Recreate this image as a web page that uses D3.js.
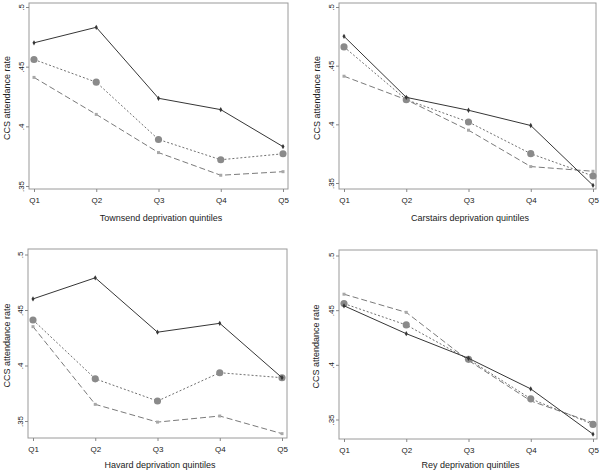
<!DOCTYPE html>
<html><head><meta charset="utf-8">
<script src="https://cdn.jsdelivr.net/npm/d3@7"></script>
<style>
body{margin:0;background:#fff;}
text{font-family:"Liberation Sans",Arial,sans-serif;}
</style></head><body>
<svg id="c" width="600" height="471"></svg>
<script>
const categories = ["Q1","Q2","Q3","Q4","Q5"];
const yTicks = [0.35, 0.40, 0.45, 0.50];
const yTickLabels = [".35", ".4", ".45", ".5"];
const panelTitles = ["Townsend deprivation quintiles","Carstairs deprivation quintiles","Havard deprivation quintiles","Rey deprivation quintiles"];
const yTitle = "CCS attendance rate";

// series per panel: solid (diamond), dotted (circle), dashed (square)
const townsendSolid  = [0.470, 0.483, 0.4235, 0.414, 0.383];
const townsendDotted = [0.456, 0.437, 0.389, 0.372, 0.377];
const townsendDashed = [0.441, 0.410, 0.378, 0.359, 0.362];

const carstairsSolid  = [0.475, 0.423, 0.412, 0.399, 0.348];
const carstairsDotted = [0.466, 0.421, 0.402, 0.375, 0.356];
const carstairsDashed = [0.441, 0.421, 0.395, 0.364, 0.360];

const havardSolid  = [0.460, 0.479, 0.430, 0.438, 0.389];
const havardDotted = [0.441, 0.388, 0.368, 0.3935, 0.389];
const havardDashed = [0.435, 0.365, 0.349, 0.3545, 0.3386];

const reySolid  = [0.454, 0.4285, 0.406, 0.378, 0.3366];
const reyDotted = [0.456, 0.4365, 0.405, 0.369, 0.3455];
const reyDashed = [0.4646, 0.448, 0.404, 0.367, 0.347];

const panelSeries = [
  [townsendSolid, townsendDotted, townsendDashed],
  [carstairsSolid, carstairsDotted, carstairsDashed],
  [havardSolid, havardDotted, havardDashed],
  [reySolid, reyDotted, reyDashed]
];

// layout (pixels) per panel
const layouts = [
  {L:29, R:288, T:3, B:189, x0:34, x1:283, yTop:7, yBot:186, ttlX:9.5, xTtlY:221},
  {L:339, R:596, T:3, B:189, x0:344, x1:593, yTop:7, yBot:183, ttlX:319.5, xTtlY:221},
  {L:28, R:287, T:249, B:438, x0:33, x1:282, yTop:254.5, yBot:421, ttlX:10, xTtlY:468},
  {L:339, R:597, T:250, B:439, x0:344, x1:593, yTop:255.5, yBot:419.5, ttlX:319, xTtlY:468}
];

const styles = [
  {stroke:"#363636", dash:null, marker:"diamond", mfill:"#363636", msize:8},
  {stroke:"#707070", dash:"2,2", marker:"circle", mfill:"#8a8a8a", msize:40},
  {stroke:"#7a7a7a", dash:"6,3", marker:"square", mfill:"#a8a8a8", msize:9}
];
const sym = {diamond:d3.symbolDiamond, circle:d3.symbolCircle, square:d3.symbolSquare};

const svg = d3.select("#c");

layouts.forEach((lo, p) => {
  const g = svg.append("g");
  const x = d3.scalePoint().domain(categories).range([lo.x0, lo.x1]);
  const y = d3.scaleLinear().domain([0.35, 0.5]).range([lo.yBot, lo.yTop]);

  // frame
  g.append("rect").attr("x", lo.L).attr("y", lo.T).attr("width", lo.R-lo.L).attr("height", lo.B-lo.T)
    .attr("fill","none").attr("stroke","#9a9a9a").attr("stroke-width",1);

  const yAxis = g.append("g").attr("transform",`translate(${lo.L},0)`)
    .call(d3.axisLeft(y).tickValues(yTicks).tickFormat((d,i)=>yTickLabels[i]).tickSize(3));
  yAxis.select(".domain").remove();
  yAxis.selectAll(".tick line").attr("stroke","#888");
  yAxis.selectAll(".tick text").attr("fill","#222").attr("font-size",8)
    .attr("transform","rotate(-90)").attr("x",0).attr("y",-5).attr("dy",null)
    .attr("text-anchor","middle");

  const xAxis = g.append("g").attr("transform",`translate(0,${lo.B})`)
    .call(d3.axisBottom(x).tickSize(3).tickPadding(5));
  xAxis.select(".domain").remove();
  xAxis.selectAll(".tick line").attr("stroke","#888");
  xAxis.selectAll(".tick text").attr("fill","#222").attr("font-size",8);

  g.append("text").attr("x",(lo.L+lo.R)/2 + 2.5).attr("y",lo.xTtlY).attr("text-anchor","middle")
    .attr("font-size",9).attr("fill","#222").text(panelTitles[p]);
  g.append("text").attr("transform",`translate(${lo.ttlX},${(lo.T+lo.B)/2 + 2}) rotate(-90)`)
    .attr("text-anchor","middle").attr("font-size",9).attr("fill","#222").text(yTitle);

  const line = d3.line().x((d,i)=>x(categories[i])).y(d=>y(d));
  // draw dashed first, then dotted, then solid
  [2,1,0].forEach(s => {
    const st = styles[s];
    const vals = panelSeries[p][s];
    g.append("path").datum(vals).attr("d", line).attr("fill","none")
      .attr("stroke", st.stroke).attr("stroke-width",1)
      .attr("stroke-dasharray", st.dash);
    g.selectAll(null).data(vals).enter().append("path")
      .attr("transform",(d,i)=>`translate(${x(categories[i])},${y(d)})`)
      .attr("d", d3.symbol().type(sym[st.marker]).size(st.msize)())
      .attr("fill", st.mfill);
  });
});
</script>
</body></html>
